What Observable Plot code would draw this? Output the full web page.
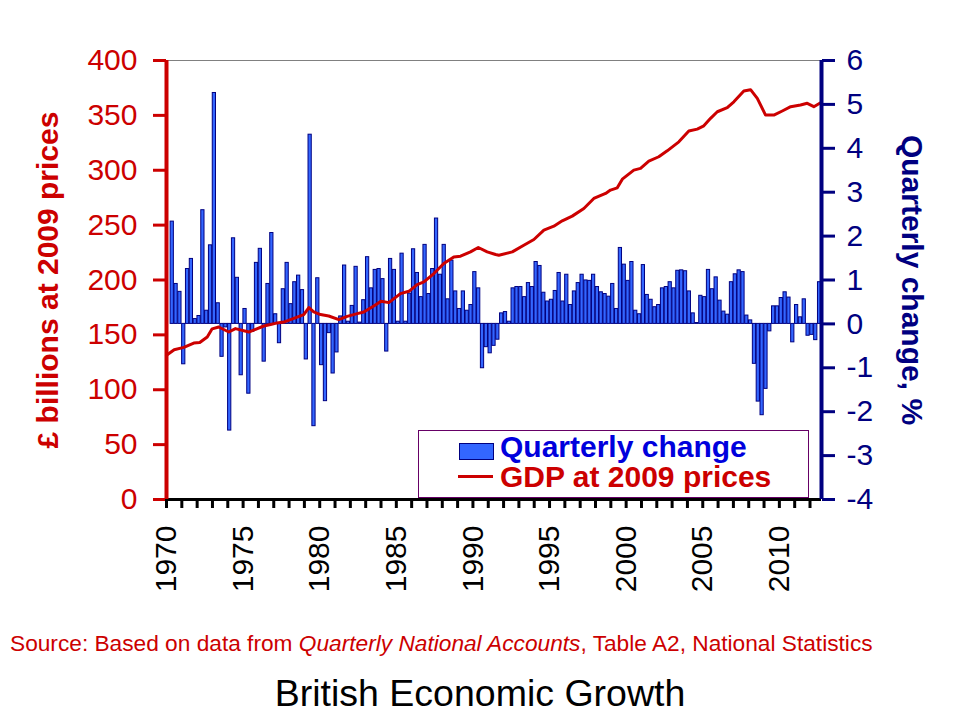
<!DOCTYPE html>
<html>
<head>
<meta charset="utf-8">
<script src="https://cdn.jsdelivr.net/npm/d3@7"></script>
<script src="https://cdn.jsdelivr.net/npm/@observablehq/plot@0.6"></script>
<style>
  html, body { margin: 0; padding: 0; background: white; }
  #wrap { position: relative; width: 960px; height: 720px; font-family: "Liberation Sans", Arial, sans-serif; }
  #chart { position: absolute; left: 0; top: 0; }
  .abs { position: absolute; white-space: nowrap; line-height: 1; }
  .leg { line-height: 28px; font-size: 30px; font-weight: bold; }
</style>
</head>
<body>
<div id="wrap">
  <div id="chart"></div>
  <div class="abs" style="left:418px; top:430px; width:389px; height:66px; border:1px solid #660066; background:white;"></div>
  <div class="abs" style="left:459px; top:443px; width:33px; height:15px; background:#3366FF; border:1px solid #000080;"></div>
  <div class="abs leg" style="left:500px; top:433px; color:#0000DD;" id="leg1"></div>
  <div class="abs" style="left:458px; top:475px; width:35px; height:3px; background:#CC0000;"></div>
  <div class="abs leg" style="left:500px; top:463px; color:#CC0000;" id="leg2"></div>
  <div class="abs" style="left:10px; top:632px; font-size:22.7px; color:#CC0000;" id="source"></div>
  <div class="abs" style="left:0; width:960px; text-align:center; top:675px; font-size:37.5px; color:black;" id="title"></div>
</div>
<script>
// ---- data ----
const years = [1970,1971,1972,1973,1974,1975,1976,1977,1978,1979,1980,1981,1982,1983,1984,1985,1986,1987,1988,1989,1990,1991,1992,1993,1994,1995,1996,1997,1998,1999,2000,2001,2002,2003,2004,2005,2006,2007,2008,2009,2010,2011,2012];

// quarterly change in GDP, %, Q1..Q4 for each year (null = no bar)
const quarterlyChange = [
  [null, 2.33, 0.91, 0.73],   // 1970
  [-0.92, 1.25, 1.48, 0.11],  // 1971
  [0.18, 2.59, 0.30, 1.79],   // 1972
  [5.26, 0.47, -0.75, -0.08], // 1973
  [-2.43, 1.95, 1.05, -1.17], // 1974
  [0.34, -1.59, -0.18, 1.39], // 1975
  [1.71, -0.86, 0.91, 2.07],  // 1976
  [0.22, -0.44, 0.79, 1.39],  // 1977
  [0.45, 0.95, 1.10, 0.77],   // 1978
  [-0.81, 4.31, -2.33, 1.04], // 1979
  [-0.94, -1.76, -0.21, -1.13], // 1980
  [-0.65, 0.17, 1.33, 0.05],  // 1981
  [0.41, 1.30, 0.03, 0.54],   // 1982
  [1.52, 0.81, 1.23, 1.25],   // 1983
  [1.02, -0.63, 1.48, 1.23],  // 1984
  [0.05, 1.60, 0.05, 0.69],   // 1985
  [1.70, 1.16, 0.61, 1.80],   // 1986
  [0.68, 1.25, 2.40, 1.12],   // 1987
  [1.80, 0.56, 1.44, 0.74],   // 1988
  [0.34, 0.74, 0.30, 0.43],   // 1989
  [1.18, 0.81, -1.01, -0.53], // 1990
  [-0.67, -0.50, -0.36, 0.24], // 1991
  [0.27, 0.05, 0.81, 0.84],   // 1992
  [0.84, 0.61, 0.93, 0.84],   // 1993
  [1.41, 1.32, 0.71, 0.51],   // 1994
  [0.55, 0.75, 1.16, 0.51],   // 1995
  [1.12, 0.43, 0.74, 0.93],   // 1996
  [1.12, 0.99, 0.98, 1.12],   // 1997
  [0.84, 0.72, 0.68, 0.62],   // 1998
  [0.91, 0.34, 1.73, 1.35],   // 1999
  [0.98, 1.41, 0.30, 0.22],   // 2000
  [1.34, 0.66, 0.55, 0.38],   // 2001
  [0.43, 0.81, 0.84, 0.95],   // 2002
  [0.81, 1.21, 1.22, 1.20],   // 2003
  [0.74, 0.24, 0.02, 0.64],   // 2004
  [0.61, 1.23, 0.79, 1.06],   // 2005
  [0.53, 0.28, 0.21, 0.95],   // 2006
  [1.13, 1.22, 1.18, 0.19],   // 2007
  [0.08, -0.91, -1.77, -2.08], // 2008
  [-1.48, -0.17, 0.40, 0.40], // 2009
  [0.59, 0.72, 0.60, -0.42],  // 2010
  [0.43, 0.15, 0.56, -0.27],  // 2011
  [-0.25, -0.37, 0.95]        // 2012
];

// GDP at 2009 prices, £ billions
const gdpTime  = [1970.0,1970.5,1971.13,1971.78,1972.17,1972.66,1972.98,1973.41,1974.07,1974.5,1975.37,1975.81,1976.35,1976.79,1977.11,1977.66,1978.96,1979.29,1979.61,1980.05,1980.59,1981.25,1981.79,1982.45,1982.88,1983.53,1984.0,1984.51,1985.27,1985.82,1986.36,1986.8,1987.45,1988.1,1988.75,1989.19,1989.84,1990.35,1990.93,1991.48,1991.69,1992.57,1993.32,1993.98,1994.63,1995.28,1995.83,1996.48,1997.24,1997.89,1998.66,1998.98,1999.42,1999.75,2000.5,2000.94,2001.48,2002.13,2002.68,2003.44,2004.09,2004.64,2005.07,2005.51,2005.95,2006.6,2007.03,2007.68,2008.12,2008.56,2009.1,2009.64,2010.19,2010.74,2011.38,2011.82,2012.25,2012.69];
const gdpValue = [131.4,136.5,138.6,142.5,143.0,148.1,155.5,157.2,152.6,155.7,152.6,155.1,158.1,159.4,160.5,161.7,168.5,174.9,170.9,168.5,167.2,163.9,166.9,169.4,170.9,176.3,180.6,179.4,187.6,189.7,195.8,198.2,205.9,215.0,221.0,221.7,225.6,229.6,225.6,223.2,222.6,225.6,231.7,236.9,245.4,249.0,253.9,258.2,265.2,274.3,278.9,281.9,284.0,291.9,300.1,301.7,308.3,312.3,317.7,325.9,335.7,337.5,340.5,347.3,353.3,357.0,362.4,372.2,373.4,365.5,350.3,350.3,354.0,357.9,359.4,361.0,357.9,361.5];

const leftTicks  = [0, 50, 100, 150, 200, 250, 300, 350, 400];
const rightTicks = [-4, -3, -2, -1, 0, 1, 2, 3, 4, 5, 6];
const yearTicks  = years;
const xEnd = 2012.75;

const leftTitle  = "£ billions at 2009 prices";
const rightTitle = "Quarterly change, %";
const legendBars = "Quarterly change";
const legendLine = "GDP at 2009 prices";
const titleText  = "British Economic Growth";

// ---- build tables ----
const toLeft = q => (q + 4) * 40;   // right axis (-4..6 %) onto left axis (0..400)
const bars = [];
years.forEach((yr, k) => {
  quarterlyChange[k].forEach((v, q) => {
    if (v != null) bars.push({x1: yr + q / 4, x2: yr + (q + 1) / 4, v});
  });
});
const gdp = gdpTime.map((t, i) => ({t, v: gdpValue[i]}));

const RED = "#CC0000", NAVY = "#000080";

const chart = Plot.plot({
  width: 960,
  height: 610,
  marginLeft: 166,
  marginRight: 139,
  marginTop: 60,
  marginBottom: 111,
  style: {fontFamily: "'Liberation Sans', Arial, sans-serif", background: "white", overflow: "visible"},
  x: {domain: [1970, xEnd]},
  y: {domain: [0, 400]},
  marks: [
    Plot.rect(bars, {
      x1: "x1", x2: "x2",
      y1: () => toLeft(0), y2: d => toLeft(d.v),
      fill: "#3366FF", stroke: NAVY, strokeWidth: 1,
      insetLeft: 0.3, insetRight: 0.3
    }),
    Plot.line(gdp, {x: "t", y: "v", stroke: RED, strokeWidth: 3}),
    Plot.ruleY([400], {stroke: "#808080", strokeWidth: 1}),
    Plot.ruleY([0], {stroke: "black", strokeWidth: 3}),
    Plot.ruleX([1970], {stroke: RED, strokeWidth: 4}),
    Plot.ruleX([xEnd], {stroke: NAVY, strokeWidth: 4}),
    Plot.axisY(leftTicks, {
      anchor: "left", tickSize: 13, tickPadding: 16,
      stroke: RED, fill: RED, color: RED, strokeWidth: 3, fontSize: 30, label: null
    }),
    Plot.axisY(rightTicks.map(toLeft), {
      anchor: "right", tickSize: 13, tickPadding: 12,
      stroke: NAVY, fill: NAVY, color: NAVY, strokeWidth: 3, fontSize: 30, label: null,
      tickFormat: v => String(Math.round(v / 40 - 4))
    }),
    Plot.axisX(yearTicks, {
      anchor: "bottom", tickSize: 9, tickPadding: 17, tickRotate: -90,
      stroke: "black", fill: "black", strokeWidth: 3, fontSize: 30, label: null,
      tickFormat: d => d % 5 === 0 ? String(d) : ""
    }),
    Plot.text([leftTitle], {
      frameAnchor: "left", dx: -118, rotate: -90, textAnchor: "middle",
      fontSize: 30, fontWeight: "bold", fill: RED, text: d => d
    }),
    Plot.text([rightTitle], {
      frameAnchor: "right", dx: 90, rotate: 90, textAnchor: "middle",
      fontSize: 30, fontWeight: "bold", fill: NAVY, text: d => d
    })
  ]
});
document.getElementById("chart").appendChild(chart);

document.getElementById("leg1").textContent = legendBars;
document.getElementById("leg2").textContent = legendLine;
document.getElementById("title").textContent = titleText;
document.getElementById("source").innerHTML =
  "Source: Based on data from <i>Quarterly National Accounts</i>, Table A2, National Statistics";
</script>
</body>
</html>
